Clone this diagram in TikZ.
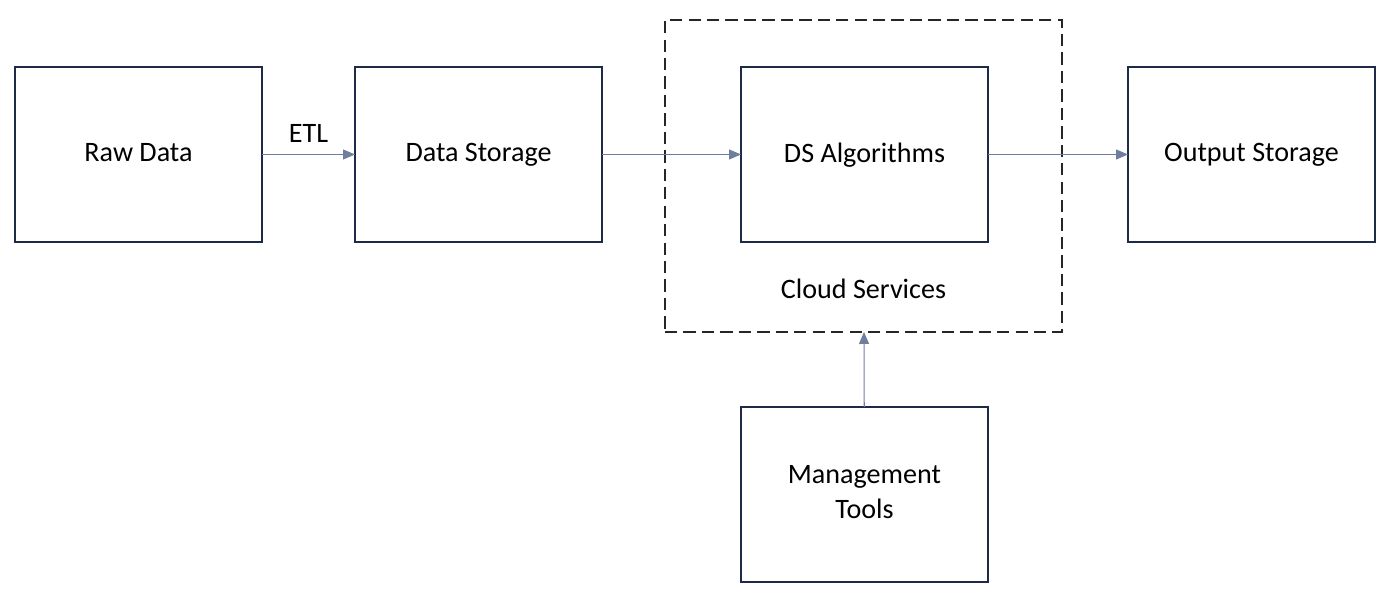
\documentclass[tikz,border=0pt]{standalone}
\usepackage{fontspec}
\setmainfont{Carlito}
\usetikzlibrary{positioning,arrows.meta}

\definecolor{boxline}{RGB}{30,42,72}
\definecolor{flowline}{RGB}{112,126,158}

\begin{document}
\begin{tikzpicture}[
    font=\fontsize{16}{20}\selectfont,
    node distance=1.86cm,
    stage/.style={
        draw=boxline,
        line width=0.8pt,
        outer sep=0pt,
        align=center,
        text depth=0.25em,
        minimum width=4.94cm,
        minimum height=3.5cm
    },
    group/.style={
        draw=black!85,
        dashed,
        dash pattern=on 7pt off 3.5pt,
        line width=0.9pt,
        outer sep=0pt,
        minimum width=7.94cm,
        minimum height=6.24cm
    },
    arrow/.style={-{Triangle[length=2.4mm,width=2mm]}, line width=0.6pt, draw=flowline}
]
\useasboundingbox (0,0) rectangle (28,11.9);

\node[stage] (raw) at (2.77,8.81) {Raw Data};
\node[stage, right=of raw] (storage) {Data Storage};
\node[stage, right=2.78cm of storage] (algo) {DS Algorithms};
\node[stage, right=2.8cm of algo] (output) {Output Storage};
\node[stage, below=3.3cm of algo] (mgmt) {Management\\Tools};

\node[group] (cloud) at (17.27,8.38) {};
\node (cloudtext) at (17.27,6.12) {Cloud Services};

\draw[arrow] (raw) -- node[above=0.12cm] (etl) {ETL} (storage);
\draw[arrow] (storage) -- (algo);
\draw[arrow] (algo) -- (output);
\draw[arrow] (mgmt) -- (cloud);

\end{tikzpicture}
\end{document}
